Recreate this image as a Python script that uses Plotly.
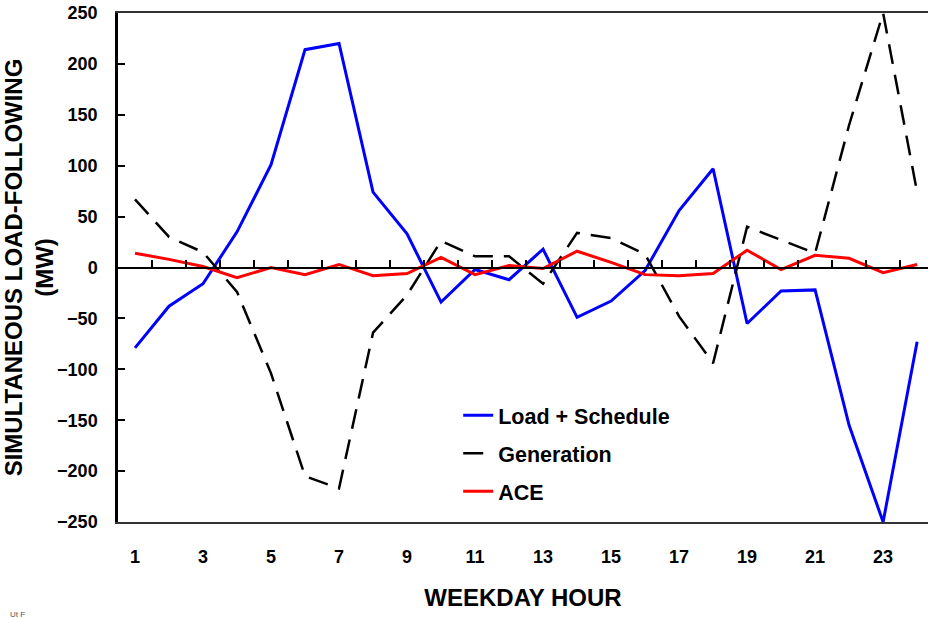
import plotly.graph_objects as go

hours = list(range(1, 25))
load_schedule = [-79, -38, -16, 35, 101, 214, 220, 74, 33, -34, -2, -12, 18, -49, -33, -3,
                 56, 97, -55, -23, -22, -155, -250, -73]
generation = [67, 30, 15, -24, -104, -205, -217, -64, -27, 26, 11, 11, -16, 34, 29, 13,
              -48, -94, 40, 27, 14, 140, 250, 74]
ace = [14, 8, 1, -10, 0, -7, 3, -8, -6, 10, -7, 2, -1, 16, 5, -7,
       -8, -6, 17, -2, 12, 9, -5, 3]
x_tick_labels = [str(h) for h in range(1, 25, 2)]
y_ticks = list(range(-250, 251, 50))

FONT = "Liberation Sans, Arial, sans-serif"

fig = go.Figure()
fig.add_trace(go.Scatter(x=hours, y=load_schedule, mode="lines", name="Load + Schedule",
                         line=dict(color="#0000ff", width=3), legendgroup="a"))
fig.add_trace(go.Scatter(x=hours, y=generation, mode="lines", name="Generation",
                         line=dict(color="#000000", width=2.5, dash="20px,11px"), legendgroup="b"))
fig.add_trace(go.Scatter(x=hours, y=ace, mode="lines", name="ACE",
                         line=dict(color="#ff0000", width=3), legendgroup="c"))

# Invisible trace on the secondary x-axis (zero-line axis with boundary ticks)
fig.add_trace(go.Scatter(x=hours, y=[None] * 24, xaxis="x2", showlegend=False, hoverinfo="skip"))

fig.update_layout(
    width=928, height=618,
    margin=dict(l=118, r=0, t=13, b=96),
    plot_bgcolor="white", paper_bgcolor="white",
    font=dict(family=FONT, color="black"),
    showlegend=True,
    legend=dict(x=0.42, y=0.25, xanchor="left", yanchor="top",
                font=dict(size=21.5, family=FONT, color="black", weight="bold"),
                bgcolor="rgba(0,0,0,0)", tracegroupgap=7, traceorder="grouped"),
    xaxis=dict(range=[0.5, 24.32], tickmode="array", tickvals=list(range(1, 25, 2)),
               ticktext=x_tick_labels, ticks="", showgrid=False, zeroline=False,
               showline=True, linecolor="#333333", linewidth=2, mirror=True,
               ticklabelstandoff=17,
               tickfont=dict(size=18, family=FONT, color="black", weight="bold"),
               title=dict(text="WEEKDAY HOUR", standoff=24,
                          font=dict(size=24, family=FONT, color="black", weight="bold"))),
    xaxis2=dict(range=[0.5, 24.32], overlaying="x", anchor="free", position=0.5,
                side="bottom", tickmode="array", tickvals=[h + 0.5 for h in range(1, 24)],
                ticks="inside", ticklen=7, tickwidth=1.5, tickcolor="black",
                showticklabels=False, showgrid=False, zeroline=False,
                showline=True, linecolor="black", linewidth=1.5),
    yaxis=dict(range=[-250, 250], tickmode="array", tickvals=y_ticks,
               ticks="inside", ticklen=7, tickwidth=1.5, tickcolor="black",
               showgrid=False, zeroline=False, showline=True, linecolor="black", linewidth=2.5,
               ticklabelstandoff=14,
               tickfont=dict(size=18, family=FONT, color="black", weight="bold"),
               title=dict(text="SIMULTANEOUS LOAD-FOLLOWING<br>(MW)", standoff=3,
                          font=dict(size=24, family=FONT, color="black", weight="bold"))),
)

fig.add_annotation(text="Ut F", x=-110 / 810, y=0, xref="paper", yref="paper",
                   xanchor="left", yanchor="top", showarrow=False,
                   font=dict(size=8, family=FONT, color="#555555"),
                   yshift=-86)

fig.write_html("out.html")
